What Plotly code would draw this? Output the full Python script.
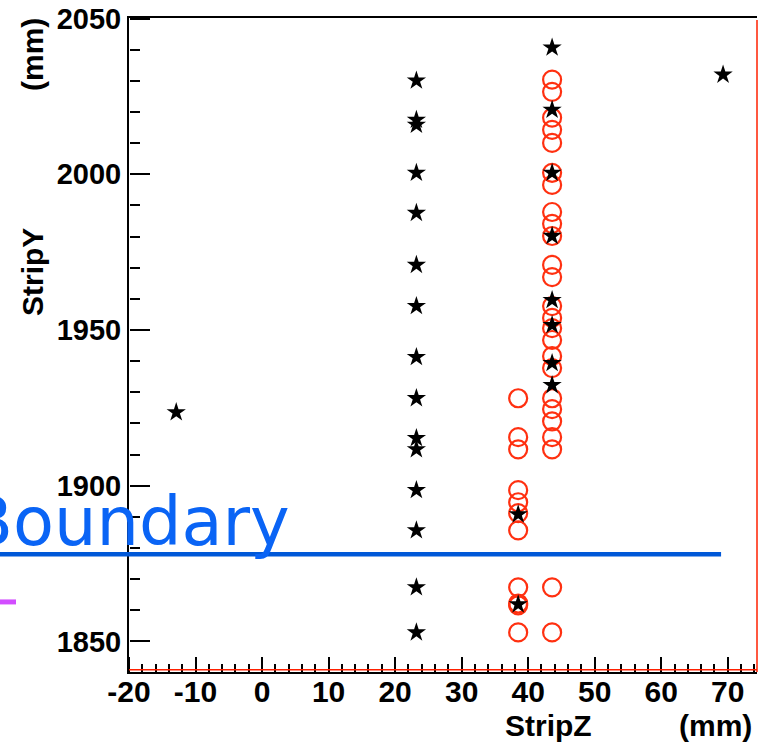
import plotly.graph_objects as go

# ---- data ----
star_z = [23.2]*15 + [43.6]*8 + [38.5, 38.5] + [-12.9, 69.3]
star_y = [2030.1, 2017.5, 2015.9, 2000.5, 1987.6, 1970.9, 1957.7, 1941.3,
          1928.1, 1915.3, 1911.7, 1898.6, 1885.7, 1867.4, 1852.9,
          2040.7, 2020.7, 2000.5, 1980.2, 1959.6, 1951.6, 1939.4, 1932.3,
          1890.8, 1861.9,
          1923.6, 2032.0]

circ_z = [38.5]*11 + [43.6]*25
circ_y = [1928.1, 1915.6, 1911.7, 1898.6, 1894.7, 1891.2, 1885.7, 1867.4, 1862.2, 1861.6, 1852.9,
          2030.4, 2026.5, 2018.2, 2014.3, 2010.1, 2000.5, 1996.6, 1987.9, 1984.1, 1980.2,
          1970.9, 1967.0, 1957.7, 1953.9, 1950.6, 1946.8, 1941.6, 1937.8, 1928.1, 1924.6,
          1920.7, 1915.6, 1911.7, 1867.4, 1852.9]

boundary_y = 1878.0
boundary_end_z = 69.0
magenta_y = 1862.7

x_tickvals = [-20, -10, 0, 10, 20, 30, 40, 50, 60, 70]
x_ticktext = ["-20", "-10", "0", "10", "20", "30", "40", "50", "60", "70"]
y_tickvals = [1850, 1900, 1950, 2000, 2050]
y_ticktext = ["1850", "1900", "1950", "2000", "2050"]

XMIN, XMAX = -20.0, 74.4
YMIN, YMAX = 1840.2, 2050.2

W, H = 759, 743
ML, MR, MT, MB = 129, 2, 18, 71
PW, PH = W - ML - MR, H - MT - MB


def px2paper_x(px):
    return (px - ML) / PW


def py2paper_y(py):
    return (H - MB - py) / PH


def data2paper_x(v):
    return (v - XMIN) / (XMAX - XMIN)


def data2paper_y(v):
    return (v - YMIN) / (YMAX - YMIN)


FONT = "Liberation Sans, Arial, Helvetica, sans-serif"

fig = go.Figure()
fig.add_trace(go.Scatter(
    x=circ_z, y=circ_y, mode="markers", xaxis="x", yaxis="y",
    marker=dict(symbol="circle-open", size=18, color="#ff3010",
                line=dict(width=2.2, color="#ff3010")),
    showlegend=False))
fig.add_trace(go.Scatter(
    x=star_z, y=star_y, mode="markers", xaxis="x2", yaxis="y2",
    marker=dict(symbol="star", size=14.5, color="black", line=dict(width=0)),
    showlegend=False))

shapes = [
    dict(type="line", xref="paper", yref="paper",
         x0=px2paper_x(0), x1=data2paper_x(boundary_end_z),
         y0=data2paper_y(boundary_y), y1=data2paper_y(boundary_y),
         line=dict(color="#0058d8", width=4.5)),
    dict(type="line", xref="paper", yref="paper",
         x0=px2paper_x(0), x1=px2paper_x(16),
         y0=data2paper_y(magenta_y), y1=data2paper_y(magenta_y),
         line=dict(color="#d24dff", width=5)),
    dict(type="line", xref="paper", yref="paper", x0=1, x1=1, y0=0, y1=0.997,
         line=dict(color="#ff2000", width=1.5)),
    dict(type="line", xref="paper", yref="paper", x0=0, x1=1,
         y0=2.2 / PH, y1=2.2 / PH,
         line=dict(color="#ff2000", width=1.5)),
]

annotations = [
    dict(text="Boundary", xref="paper", yref="paper",
         x=px2paper_x(292), y=py2paper_y(522), xanchor="right", yanchor="middle",
         showarrow=False, font=dict(family="DejaVu Sans, sans-serif",
                                    size=67, color="#0a64f5")),
    dict(text="<b>StripZ</b>", xref="paper", yref="paper",
         x=px2paper_x(548), y=py2paper_y(725), xanchor="center", yanchor="middle",
         showarrow=False, font=dict(family=FONT, size=30, color="black")),
    dict(text="<b>(mm)</b>", xref="paper", yref="paper",
         x=px2paper_x(715), y=py2paper_y(725), xanchor="center", yanchor="middle",
         showarrow=False, font=dict(family=FONT, size=30, color="black")),
    dict(text="<b>StripY</b>", xref="paper", yref="paper", textangle=-90,
         x=px2paper_x(32), y=py2paper_y(272), xanchor="center", yanchor="middle",
         showarrow=False, font=dict(family=FONT, size=30, color="black")),
    dict(text="<b>(mm)</b>", xref="paper", yref="paper", textangle=-90,
         x=px2paper_x(33), y=py2paper_y(55), xanchor="center", yanchor="middle",
         showarrow=False, font=dict(family=FONT, size=30, color="black")),
]

fig.update_layout(
    width=W, height=H,
    margin=dict(l=ML, r=MR, t=MT, b=MB, pad=0),
    paper_bgcolor="white", plot_bgcolor="white",
    shapes=shapes, annotations=annotations,
    xaxis=dict(range=[XMIN, XMAX], tickmode="array",
               tickvals=x_tickvals, ticktext=x_ticktext,
               ticks="", showline=True, linecolor="black", linewidth=2, mirror=True,
               showgrid=False, zeroline=False, ticklabelstandoff=-8,
               tickfont=dict(family=FONT, size=30, color="black", weight="bold")),
    # companion axis on the bottom edge, ticks pointing up into the frame
    xaxis2=dict(range=[XMIN, XMAX], overlaying="x", side="top",
                anchor="free", position=0,
                tickmode="array", tickvals=x_tickvals,
                ticks="outside", ticklen=15, tickwidth=2, tickcolor="black",
                minor=dict(dtick=2, tick0=0, ticks="outside", ticklen=8,
                           tickwidth=2, tickcolor="black", showgrid=False),
                showticklabels=False, showline=False, showgrid=False,
                zeroline=False),
    yaxis=dict(range=[YMIN, YMAX], tickmode="array",
               tickvals=y_tickvals, ticktext=y_ticktext,
               ticks="", showline=True, linecolor="black", linewidth=2, mirror=False,
               showgrid=False, zeroline=False,
               tickfont=dict(family=FONT, size=29, color="black", weight="bold")),
    # companion axis on the left edge, ticks pointing into the frame
    yaxis2=dict(range=[YMIN, YMAX], overlaying="y", side="right",
                anchor="free", position=0,
                tickmode="array", tickvals=y_tickvals,
                ticks="outside", ticklen=20, tickwidth=2, tickcolor="black",
                minor=dict(dtick=10, tick0=1850, ticks="outside", ticklen=10,
                           tickwidth=2, tickcolor="black", showgrid=False),
                showticklabels=False, showline=False, showgrid=False,
                zeroline=False),
)

fig.write_html("out.html")
